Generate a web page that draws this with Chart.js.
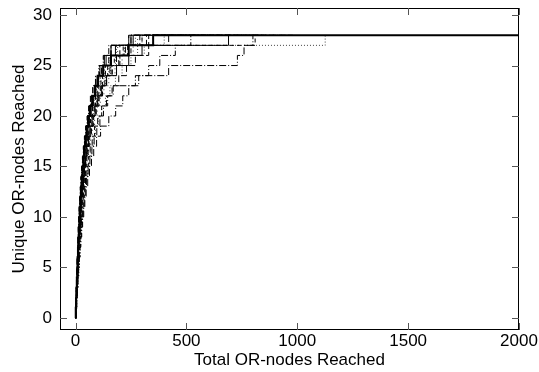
<!DOCTYPE html>
<html>
<head>
<meta charset="utf-8">
<script src="https://cdn.jsdelivr.net/npm/chart.js@4.4.0/dist/chart.umd.min.js"></script>
<style>
  html, body { margin: 0; padding: 0; background: #fff; }
  #wrap { width: 539px; height: 372px; }
</style>
</head>
<body>
<div id="wrap"><canvas id="chart" width="539" height="372"></canvas></div>
<script>
// Tick labels
const xTicks = [0, 500, 1000, 1500, 2000];
const yTicks = [0, 5, 10, 15, 20, 25, 30];

// Unique count levels 0..28 and the last total reached
const levels = [0, 1, 2, 3, 4, 5, 6, 7, 8, 9, 10, 11, 12, 13, 14, 15, 16, 17, 18, 19, 20, 21, 22, 23, 24, 25, 26, 27, 28, 28];

// Total OR-nodes reached when each unique level is first hit (last value = end of run)
const run01 = [0, 1, 3, 4, 6, 8, 9, 11, 13, 15, 17, 19, 22, 25, 28, 31, 35, 39, 44, 50, 57, 65, 75, 88, 100, 125, 160, 240, 350, 2000];
const run02 = [0, 2, 4, 6, 8, 10, 12, 14, 16, 19, 22, 25, 28, 32, 36, 40, 45, 51, 58, 66, 75, 88, 98, 118, 140, 185, 240, 300, 690, 700];
const run03 = [0, 1, 2, 3, 5, 6, 8, 9, 11, 13, 15, 17, 19, 22, 25, 28, 32, 36, 41, 47, 54, 62, 72, 85, 104, 117, 150, 160, 240, 420];
const run04 = [0, 2, 3, 5, 7, 9, 11, 13, 15, 18, 21, 24, 27, 31, 35, 40, 45, 51, 57, 64, 72, 82, 95, 110, 128, 150, 180, 220, 260, 300];
const run05 = [0, 2, 5, 8, 11, 14, 17, 20, 24, 28, 32, 37, 42, 48, 55, 63, 72, 82, 95, 113, 150, 181, 213, 240, 270, 420, 730, 760, 800, 820];
const run06 = [0, 1, 3, 5, 7, 9, 11, 13, 15, 17, 20, 23, 26, 29, 33, 37, 42, 47, 53, 60, 68, 77, 88, 100, 115, 135, 160, 200, 810, 830];
const run07 = [0, 2, 4, 6, 8, 10, 12, 15, 18, 21, 24, 27, 30, 34, 38, 43, 48, 54, 61, 69, 78, 88, 100, 115, 135, 160, 200, 280, 1126, 1130];
const run08 = [0, 1, 2, 4, 5, 7, 8, 10, 12, 14, 16, 18, 21, 24, 27, 30, 34, 38, 43, 48, 54, 61, 69, 78, 90, 105, 125, 150, 250, 550];
const run09 = [0, 1, 3, 5, 7, 9, 10, 12, 14, 16, 18, 21, 24, 27, 30, 34, 38, 42, 47, 53, 60, 68, 78, 90, 98, 110, 130, 180, 260, 320];
const run10 = [0, 2, 4, 6, 9, 11, 13, 16, 19, 22, 25, 28, 32, 36, 40, 45, 51, 57, 64, 72, 82, 93, 106, 120, 140, 165, 200, 250, 330, 650];
const run11 = [0, 1, 3, 4, 6, 8, 10, 12, 14, 16, 19, 22, 25, 28, 32, 36, 40, 45, 51, 58, 66, 75, 85, 97, 110, 128, 150, 190, 280, 900];
const run12 = [0, 2, 4, 7, 9, 12, 14, 17, 20, 23, 27, 31, 35, 40, 45, 51, 58, 66, 75, 86, 100, 118, 140, 165, 195, 230, 270, 330, 420, 980];
const run13 = [0, 1, 2, 4, 6, 7, 9, 11, 13, 15, 17, 20, 23, 26, 29, 33, 37, 42, 47, 53, 60, 68, 80, 95, 112, 130, 155, 185, 300, 700];
const run14 = [0, 2, 5, 7, 10, 13, 16, 19, 22, 26, 30, 34, 39, 44, 50, 57, 65, 74, 84, 96, 110, 126, 145, 170, 285, 330, 380, 450, 520, 800];
const run15 = [0, 1, 3, 5, 6, 8, 10, 12, 14, 17, 19, 22, 25, 29, 33, 37, 42, 47, 53, 60, 68, 78, 90, 105, 122, 145, 175, 215, 300, 380];
const run16 = [0, 3, 6, 9, 12, 15, 18, 21, 24, 27, 30, 34, 38, 43, 49, 55, 62, 70, 79, 90, 103, 118, 135, 155, 180, 210, 250, 310, 400, 600];
const run17 = [0, 1, 2, 3, 4, 6, 7, 9, 10, 12, 14, 16, 18, 21, 24, 27, 31, 35, 40, 46, 52, 59, 67, 78, 92, 108, 128, 160, 240, 500];
const run18 = [0, 2, 3, 5, 7, 8, 10, 12, 14, 16, 18, 20, 23, 26, 30, 34, 39, 44, 50, 56, 63, 71, 81, 92, 104, 120, 138, 160, 250, 850];
const run19 = [0, 1, 3, 6, 8, 10, 12, 15, 17, 20, 23, 26, 30, 34, 38, 43, 48, 54, 61, 70, 80, 92, 105, 122, 140, 165, 195, 235, 320, 750];
const run20 = [0, 2, 4, 6, 8, 10, 13, 15, 18, 21, 24, 28, 32, 36, 41, 46, 52, 59, 67, 76, 86, 98, 112, 128, 150, 178, 210, 260, 350, 950];
const run21 = [0, 1, 2, 4, 6, 8, 10, 12, 14, 17, 20, 23, 26, 30, 34, 39, 44, 50, 57, 65, 74, 85, 98, 113, 132, 155, 185, 225, 290, 600];
const run22 = [0, 2, 4, 5, 7, 9, 11, 13, 16, 18, 21, 24, 27, 31, 35, 40, 46, 53, 61, 70, 80, 91, 104, 119, 137, 158, 185, 220, 270, 350];

const runs = [run01, run02, run03, run04, run05, run06, run07, run08, run09, run10, run11,
  run12, run13, run14, run15, run16, run17, run18, run19, run20, run21, run22];

// gnuplot-ish line types
const styles = [
  { dash: [], width: 2 },
  { dash: [], width: 1 },
  { dash: [6, 3], width: 1 },
  { dash: [1, 2], width: 1 },
  { dash: [7, 2, 1, 2], width: 1 },
  { dash: [4, 3], width: 1 },
  { dash: [1, 2], width: 1 },
  { dash: [6, 2, 1, 2], width: 1 },
  { dash: [], width: 1 },
  { dash: [5, 3], width: 1 },
  { dash: [1, 3], width: 1 }
];

const datasets = runs.map((run, i) => {
  const st = i < 2 ? styles[i] : styles[2 + (i - 2) % (styles.length - 2)];
  return {
    data: run.map((x, k) => ({ x: x, y: levels[k] })),
    borderColor: st.dash.length && st.dash[0] === 1 ? '#444' : '#000',
    borderWidth: st.width,
    borderDash: st.dash,
    pointRadius: 0,
    fill: false,
    stepped: 'before',
    order: i === 0 ? 0 : 1
  };
});

// frame + inward ticks on all four sides, like gnuplot
const framePlugin = {
  id: 'frame',
  afterDraw(chart) {
    const { ctx, chartArea: a, scales } = chart;
    ctx.save();
    ctx.strokeStyle = '#000';
    ctx.lineWidth = 1;
    ctx.setLineDash([]);
    ctx.strokeRect(a.left + 0.5, a.top + 0.5, a.right - a.left - 1, a.bottom - a.top - 1);
    ctx.strokeStyle = '#555';
    ctx.beginPath();
    xTicks.forEach(v => {
      const px = Math.round(scales.x.getPixelForValue(v)) + 0.5;
      ctx.moveTo(px, a.bottom); ctx.lineTo(px, a.bottom - 7);
      ctx.moveTo(px, a.top); ctx.lineTo(px, a.top + 7);
    });
    yTicks.forEach(v => {
      const py = Math.round(scales.y.getPixelForValue(v)) + 0.5;
      ctx.moveTo(a.left, py); ctx.lineTo(a.left + 7, py);
      ctx.moveTo(a.right, py); ctx.lineTo(a.right - 7, py);
    });
    ctx.stroke();
    ctx.restore();
  }
};

const fontFam = '"Liberation Sans", Arial, sans-serif';

new Chart(document.getElementById('chart'), {
  type: 'line',
  data: { datasets: datasets },
  options: {
    responsive: false,
    animation: false,
    layout: { padding: { top: 8, right: 20, left: 9, bottom: 0 } },
    plugins: { legend: { display: false }, tooltip: { enabled: false } },
    scales: {
      x: {
        type: 'linear',
        min: -70,
        max: 2000,
        afterBuildTicks: scale => { scale.ticks = xTicks.map(v => ({ value: v })); },
        afterFit: scale => { scale.height = 42; scale.paddingLeft = 0; scale.paddingRight = 0; },
        grid: { display: false, drawTicks: false },
        border: { display: false },
        ticks: { color: '#000', font: { family: fontFam, size: 17 }, padding: 1, maxRotation: 0, callback: v => String(v) },
        title: { display: true, text: 'Total OR-nodes Reached', color: '#000', font: { family: fontFam, size: 17 }, padding: { top: 0, bottom: 1 } }
      },
      y: {
        type: 'linear',
        min: -1.2,
        max: 30.7,
        afterBuildTicks: scale => { scale.ticks = yTicks.map(v => ({ value: v })); },
        afterFit: scale => { scale.width = 51; scale.paddingTop = 0; scale.paddingBottom = 0; },
        grid: { display: false, drawTicks: false },
        border: { display: false },
        ticks: { color: '#000', font: { family: fontFam, size: 17 }, padding: 8, callback: v => String(v) },
        title: { display: true, text: 'Unique OR-nodes Reached', color: '#000', font: { family: fontFam, size: 17 }, padding: { top: 0, bottom: 0 } }
      }
    }
  },
  plugins: [framePlugin]
});
</script>
</body>
</html>
